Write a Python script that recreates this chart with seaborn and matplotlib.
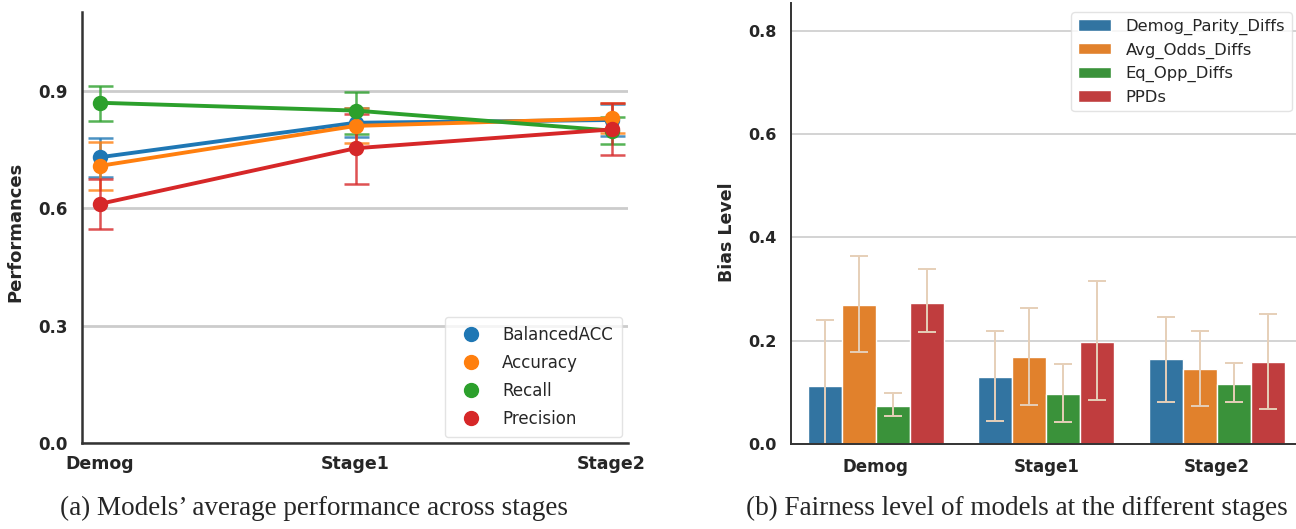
import pandas as pd
import numpy as np
import matplotlib.pyplot as plt
import seaborn as sns
from matplotlib.lines import Line2D

# Datos
stages = ['Demog', 'Stage1', 'Stage2']

# (a) rendimiento medio por etapa
perf_metrics = ['BalancedACC', 'Accuracy', 'Recall', 'Precision']
balanced_acc = [0.730, 0.818, 0.825]
balanced_acc_lo = [0.680, 0.782, 0.785]
balanced_acc_hi = [0.780, 0.855, 0.865]
accuracy = [0.708, 0.810, 0.829]
accuracy_lo = [0.646, 0.766, 0.793]
accuracy_hi = [0.768, 0.855, 0.868]
recall = [0.869, 0.849, 0.798]
recall_lo = [0.822, 0.789, 0.764]
recall_hi = [0.912, 0.896, 0.833]
precision = [0.611, 0.753, 0.801]
precision_lo = [0.546, 0.662, 0.735]
precision_hi = [0.675, 0.840, 0.869]

# (b) nivel de sesgo por etapa
bias_metrics = ['Demog_Parity_Diffs', 'Avg_Odds_Diffs', 'Eq_Opp_Diffs', 'PPDs']
demog_parity = [0.113, 0.130, 0.164]
demog_parity_lo = [-0.015, 0.045, 0.082]
demog_parity_hi = [0.240, 0.219, 0.246]
avg_odds = [0.269, 0.168, 0.146]
avg_odds_lo = [0.178, 0.075, 0.074]
avg_odds_hi = [0.364, 0.263, 0.219]
eq_opp = [0.074, 0.097, 0.116]
eq_opp_lo = [0.054, 0.043, 0.082]
eq_opp_hi = [0.098, 0.154, 0.156]
ppds = [0.274, 0.197, 0.158]
ppds_lo = [0.217, 0.086, 0.067]
ppds_hi = [0.338, 0.316, 0.251]

perf_vals = [balanced_acc, accuracy, recall, precision]
perf_lo = [balanced_acc_lo, accuracy_lo, recall_lo, precision_lo]
perf_hi = [balanced_acc_hi, accuracy_hi, recall_hi, precision_hi]
bias_vals = [demog_parity, avg_odds, eq_opp, ppds]
bias_lo = [demog_parity_lo, avg_odds_lo, eq_opp_lo, ppds_lo]
bias_hi = [demog_parity_hi, avg_odds_hi, eq_opp_hi, ppds_hi]

perf_df = pd.DataFrame([(s, m, v[i]) for m, v in zip(perf_metrics, perf_vals)
                        for i, s in enumerate(stages)],
                       columns=['stage', 'metric', 'value'])
bias_df = pd.DataFrame([(s, m, v[i]) for m, v in zip(bias_metrics, bias_vals)
                        for i, s in enumerate(stages)],
                       columns=['stage', 'metric', 'value'])

sns.set_style('whitegrid')
plt.rcParams['font.family'] = ['DejaVu Sans']

fig = plt.figure(figsize=(12.96, 5.29), dpi=100)
ax1 = fig.add_axes([0.0630, 0.1618, 0.4213, 0.8155])
ax2 = fig.add_axes([0.6101, 0.1607, 0.3945, 0.8336])

colors = sns.color_palette('tab10', 4)

# ---- (a) grafico de puntos ----
sns.pointplot(data=perf_df, x='stage', y='value', hue='metric',
              palette=colors, errorbar=None, markersize=9, linewidth=2.8,
              legend=False, ax=ax1)
xpos = np.arange(len(stages))
for vals, lo, hi, c in zip(perf_vals, perf_lo, perf_hi, colors):
    vals = np.array(vals)
    yerr = [vals - np.array(lo), np.array(hi) - vals]
    ax1.errorbar(xpos, vals, yerr=yerr, fmt='none', ecolor=c, alpha=0.8,
                 elinewidth=1.8, capsize=9, capthick=1.8, zorder=1)

ax1.set_xlim(-0.071, 2.063)
ax1.set_ylim(0, 1.1005)
ax1.set_yticks([0.0, 0.3, 0.6, 0.9])
ax1.set_xlabel('')
ax1.set_ylabel('Performances', fontsize=13, fontweight='bold')
ax1.yaxis.set_label_coords(-0.104, 0.49)
ax1.grid(axis='y', color='#cccccc', linewidth=2)
ax1.grid(axis='x', visible=False)
ax1.tick_params(axis='y', labelsize=12, pad=10, length=0)
ax1.tick_params(axis='x', labelsize=12.5, pad=8, length=0)
for lab in ax1.get_xticklabels() + ax1.get_yticklabels():
    lab.set_fontweight('bold')
sns.despine(ax=ax1)
for sp in ['left', 'bottom']:
    ax1.spines[sp].set_color('#333333')
    ax1.spines[sp].set_linewidth(1.8)

handles = [Line2D([], [], marker='o', linestyle='none', color=c, markersize=10)
           for c in colors]
leg1 = ax1.legend(handles, perf_metrics, loc='lower right',
                  bbox_to_anchor=(0.99, 0.015), borderaxespad=0, fontsize=12,
                  labelspacing=0.6, handletextpad=0.9, borderpad=0.55,
                  frameon=True)
leg1.get_frame().set_edgecolor('#dddddd')

# ---- (b) grafico de barras ----
sns.barplot(data=bias_df, x='stage', y='value', hue='metric', errorbar=None,
            edgecolor='white', linewidth=1, ax=ax2)
for cont, vals, lo, hi in zip(ax2.containers, bias_vals, bias_lo, bias_hi):
    xs = [b.get_x() + b.get_width() / 2 for b in cont]
    vals = np.array(vals)
    yerr = [vals - np.array(lo), np.array(hi) - vals]
    ax2.errorbar(xs, vals, yerr=yerr, fmt='none', ecolor='#e6cfb8',
                 elinewidth=1.4, capsize=6.5, capthick=1.4)

ax2.set_xlim(-0.5, 2.5)
ax2.set_ylim(0, 0.854)
ax2.set_yticks([0.0, 0.2, 0.4, 0.6, 0.8])
ax2.set_xlabel('')
ax2.set_ylabel('Bias Level', fontsize=12.5, fontweight='bold')
ax2.yaxis.set_label_coords(-0.107, 0.48)
ax2.grid(axis='y', color='#c8c8c8', linewidth=1.1)
ax2.grid(axis='x', visible=False)
ax2.tick_params(axis='y', labelsize=11.5, pad=10, length=0)
ax2.tick_params(axis='x', labelsize=12, pad=10, length=0)
for lab in ax2.get_xticklabels() + ax2.get_yticklabels():
    lab.set_fontweight('bold')
sns.despine(ax=ax2)
for sp in ['left', 'bottom']:
    ax2.spines[sp].set_color('#333333')
    ax2.spines[sp].set_linewidth(1.4)

leg2 = ax2.legend(loc='upper right', bbox_to_anchor=(0.98, 0.979),
                  borderaxespad=0, fontsize=11.8, labelspacing=0.45,
                  handletextpad=0.9, title=None)
leg2.get_frame().set_edgecolor('#dddddd')

# Titulos inferiores
fig.text(0.2423, 0.038, '(a) Models\u2019 average performance across stages',
         ha='center', va='center', fontsize=19.5, family='Liberation Serif')
fig.text(0.7843, 0.038, '(b) Fairness level of models at the different stages',
         ha='center', va='center', fontsize=19.5, family='Liberation Serif')

fig.savefig('out.png', dpi=100)
